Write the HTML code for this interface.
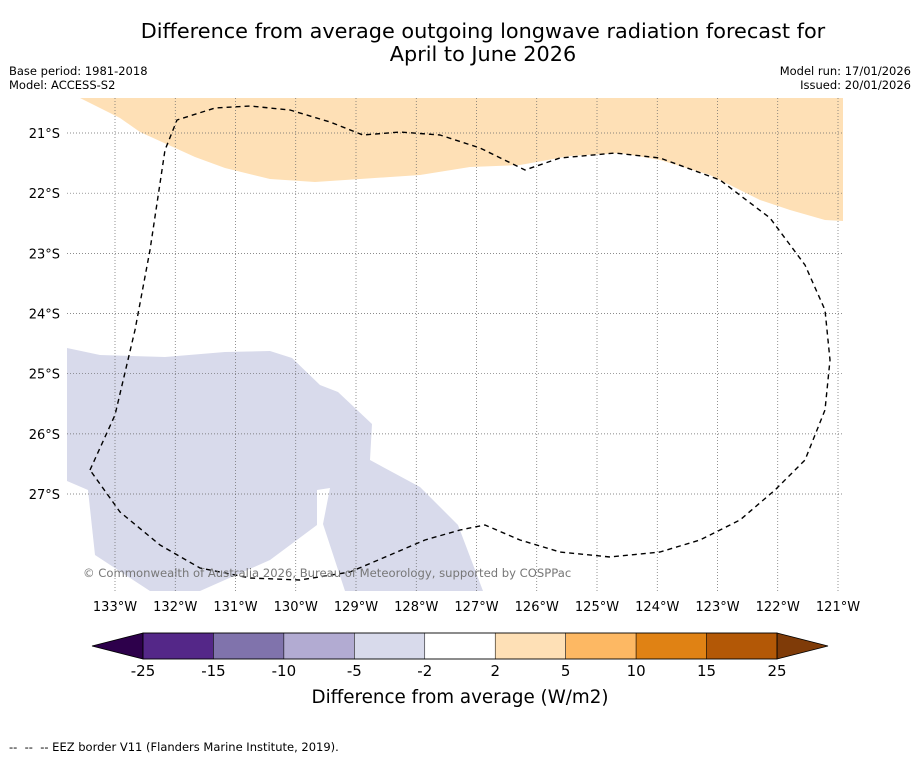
<!DOCTYPE html>
<html><head><meta charset="utf-8"><style>
body{margin:0;background:#fff;font-family:"DejaVu Sans","Liberation Sans",sans-serif;}
svg text{font-family:"DejaVu Sans","Liberation Sans",sans-serif;}
</style></head><body>
<svg id="c" width="919" height="758" xmlns="http://www.w3.org/2000/svg">
<text x="483" y="38" font-size="20.8" text-anchor="middle">Difference from average outgoing longwave radiation forecast for</text>
<text x="483" y="61" font-size="20.8" text-anchor="middle">April to June 2026</text>
<text x="9" y="75" font-size="11.5">Base period: 1981-2018</text>
<text x="9" y="89" font-size="11.5">Model: ACCESS-S2</text>
<text x="911" y="75" font-size="11.5" text-anchor="end">Model run: 17/01/2026</text>
<text x="911" y="89" font-size="11.5" text-anchor="end">Issued: 20/01/2026</text>
<g id="map">
<rect x="67" y="98" width="776" height="493" fill="#fff"/>
<path fill="#fee0b6" d="M80,98 L120,118 L140,132 L195,157 L225,168 L270,179 L315,182 L360,179 L420,175 L470,167 L520,165 L570,156 L620,153 L660,160 L710,175 L760,200 L790,210 L825,220 L843,221 L843,98 Z"/>
<path fill="#d8daeb" d="M67,348 L100,355 L165,357 L225,352 L270,351 L292,358 L320,385 L338,392 L372,424 L370,460 L420,487 L458,525 L483,591 L345,591 L323,524 L330,488 L317,490 L317,525 L270,560 L200,591 L150,591 L95,555 L88,490 L67,481 Z"/>
<g id="grid"></g>
<path fill="none" stroke="#000" stroke-width="1.4" stroke-dasharray="5,4" stroke-linejoin="round" d="M90,470 L115,415 L135,330 L150,250 L165,150 L177,120 L215,108 L250,106 L290,110 L330,122 L363,135 L400,132 L440,135 L480,148 L525,170 L560,158 L615,153 L660,158 L720,180 L770,218 L805,265 L825,310 L830,360 L825,410 L805,460 L775,490 L740,520 L700,540 L660,552 L610,557 L560,552 L520,540 L485,525 L460,530 L425,540 L390,555 L350,572 L300,580 L250,578 L200,568 L160,545 L120,512 Z"/>
<text x="83" y="577" font-size="11.6" fill="#777">© Commonwealth of Australia 2026, Bureau of Meteorology, supported by COSPPac</text>
</g>
<g id="axes"></g>
<g id="cbar"></g>
<text x="460" y="703" font-size="18.3" text-anchor="middle">Difference from average (W/m2)</text>
<text x="9" y="751" font-size="11.5" xml:space="preserve">--  --  -- EEZ border V11 (Flanders Marine Institute, 2019).</text>
</svg>
<script>
const lonTicks=[133,132,131,130,129,128,127,126,125,124,123,122,121];
const latTicks=[21,22,23,24,25,26,27];
const cbLevels=["-25","-15","-10","-5","-2","2","5","10","15","25"];
const cbColors=["#542788","#8073ac","#b2abd2","#d8daeb","#ffffff","#fee0b6","#fdb863","#e08214","#b35806"];
const NS="http://www.w3.org/2000/svg";
function xLon(l){return 115+(133-l)*60.25;}
function yLat(l){return 133+(l-21)*60.17;}
function mk(t,a,p){const e=document.createElementNS(NS,t);for(const k in a)e.setAttribute(k,a[k]);p.appendChild(e);return e;}
const g=document.getElementById('grid'),ax=document.getElementById('axes'),cb=document.getElementById('cbar');
lonTicks.forEach(l=>{const x=xLon(l);
 const ln=mk('line',{x1:x,x2:x,y1:98,y2:591,stroke:'#666','stroke-width':0.7,'stroke-dasharray':'1,2'},g);
 
 
 const t=mk('text',{x:x,y:611,'font-size':13,'text-anchor':'middle'},ax);t.textContent=l+'°W';
 
 
});
latTicks.forEach(l=>{const y=yLat(l);
 const ln=mk('line',{x1:67,x2:843,y1:y,y2:y,stroke:'#666','stroke-width':0.7,'stroke-dasharray':'1,2'},g);
 
 
 const t=mk('text',{x:60,y:y+5,'font-size':13,'text-anchor':'end'},ax);t.textContent=l+'°S';
 
 
});
const x0=143,x1=777,y0=633,h=26,w=(x1-x0)/cbColors.length;
const lt=mk('polygon',{points:`92,${y0+h/2} ${x0},${y0} ${x0},${y0+h}`,fill:'#2d004b',stroke:'#000','stroke-width':0.8},cb);


const rt=mk('polygon',{points:`828,${y0+h/2} ${x1},${y0} ${x1},${y0+h}`,fill:'#7f3b08',stroke:'#000','stroke-width':0.8},cb);


cbColors.forEach((c,i)=>{const r=mk('rect',{x:x0+i*w,y:y0,width:w,height:h,fill:c,stroke:'#000','stroke-width':0.5},cb);
 
 
});
mk('rect',{x:x0,y:y0,width:x1-x0,height:h,fill:'none',stroke:'#000','stroke-width':0.8},cb);
cbLevels.forEach((v,i)=>{const t=mk('text',{x:x0+i*w,y:676,'font-size':15,'text-anchor':'middle'},cb);t.textContent=v;
 
 
});
</script>
</body></html>
